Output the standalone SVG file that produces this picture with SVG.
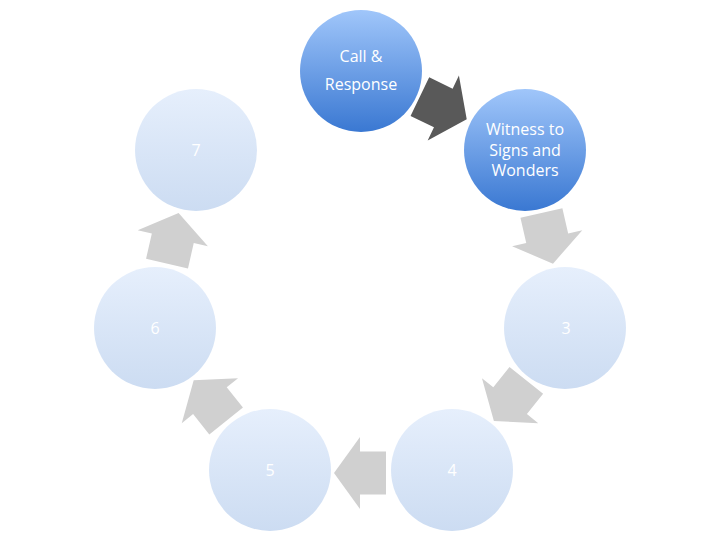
<svg xmlns="http://www.w3.org/2000/svg" width="720" height="540" viewBox="0 0 720 540">
<defs>
<linearGradient id="gBlue" x1="0" y1="0" x2="0" y2="1">
<stop offset="0" stop-color="#a0c6fa"/>
<stop offset="1" stop-color="#3a78d2"/>
</linearGradient>
<linearGradient id="gPale" x1="0" y1="0" x2="0" y2="1">
<stop offset="0" stop-color="#e6effc"/>
<stop offset="1" stop-color="#ccdcf2"/>
</linearGradient>
<polygon id="arrow" points="-26,-21.5 0,-21.5 0,-36 26,0 0,36 0,21.5 -26,21.5"/>
</defs>
<style>
.blue{fill:url(#gBlue)}
.pale{fill:url(#gPale)}
text{font-family:"Open Sans","Liberation Sans",sans-serif;font-size:16px;fill:#ffffff;text-anchor:middle}
.dark{fill:#595959}
.light{fill:#d0d0d0}
</style>
<rect width="720" height="540" fill="#ffffff"/>
<g id="connectors">
<use href="#arrow" class="dark" transform="translate(443.3,108.0) rotate(25.71)"/>
<use href="#arrow" class="light" transform="translate(547.2,238.3) rotate(77.14)"/>
<use href="#arrow" class="light" transform="translate(510.1,400.7) rotate(128.57)"/>
<use href="#arrow" class="light" transform="translate(360,473) rotate(180)"/>
<use href="#arrow" class="light" transform="translate(209.9,400.7) rotate(231.43)"/>
<use href="#arrow" class="light" transform="translate(172.8,238.3) rotate(282.86)"/>
</g>
<g id="node-call">
<circle class="blue" cx="361" cy="71" r="61"/>
<text x="361" y="62">Call &amp;</text>
<text x="361" y="90">Response</text>
</g>
<g id="node-witness">
<circle class="blue" cx="525" cy="150" r="61"/>
<text x="525" y="135">Witness to</text>
<text x="525" y="156">Signs and</text>
<text x="525" y="176">Wonders</text>
</g>
<g id="node-3">
<circle class="pale" cx="565" cy="328" r="61"/>
<text x="566" y="334">3</text>
</g>
<g id="node-4">
<circle class="pale" cx="452" cy="470" r="61"/>
<text x="452" y="476">4</text>
</g>
<g id="node-5">
<circle class="pale" cx="270" cy="470" r="61"/>
<text x="270" y="476">5</text>
</g>
<g id="node-6">
<circle class="pale" cx="155" cy="328" r="61"/>
<text x="155" y="334">6</text>
</g>
<g id="node-7">
<circle class="pale" cx="196" cy="150" r="61"/>
<text x="196" y="156">7</text>
</g>
</svg>
